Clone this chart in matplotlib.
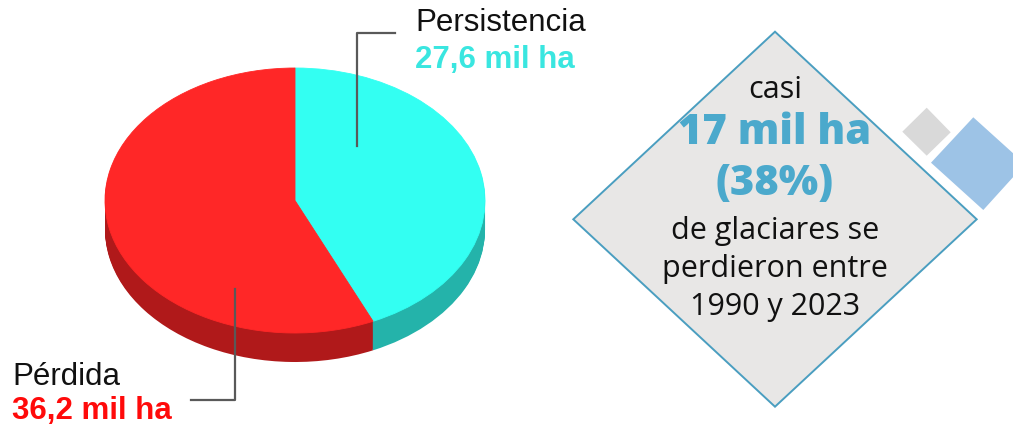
import matplotlib
matplotlib.use("Agg")
import matplotlib.pyplot as plt
from matplotlib.patches import Polygon

# glacier area (thousand ha)
categories = ["Persistencia", "Pérdida"]
values = [27.6, 36.2]
value_labels = ["27,6 mil ha", "36,2 mil ha"]
top_colors = ["#33FFF2", "#FF2727"]
side_colors = ["#24B3AA", "#B0191A"]

headline = ["17 mil ha", "(38%)"]
caption = ["de glaciares se", "perdieron entre", "1990 y 2023"]

W, H = 1013, 428
fig = plt.figure(figsize=(W / 100, H / 100), dpi=100, facecolor="white")

# pie axes: one unit = 190 px across, 132.5 px down -> tilted ellipse
cx, cy = 295, 200.5
rx, ry = 190.0, 132.5
depth = 29 / ry
pie_ax = fig.add_axes([0, 0, 1, 1])
layers = 30
for k in range(layers, 0, -1):
    w, _ = pie_ax.pie(values, colors=side_colors, startangle=90, counterclock=False,
                      center=(0, -depth * k / layers), wedgeprops=dict(linewidth=0))
w_top, _ = pie_ax.pie(values, colors=top_colors, startangle=90, counterclock=False,
                      wedgeprops=dict(linewidth=0.6))
for wedge in w_top:
    wedge.set_edgecolor(wedge.get_facecolor())
pie_ax.set_aspect("auto")
pie_ax.set_xlim(-cx / rx, (W - cx) / rx)
pie_ax.set_ylim(-(H - cy) / ry, cy / ry)
pie_ax.axis("off")

# overlay in pixel coordinates for labels and the callout
ax = fig.add_axes([0, 0, 1, 1], facecolor="none")
ax.set_xlim(0, W)
ax.set_ylim(H, 0)
ax.axis("off")

lab_font = "Liberation Sans"
ax.text(415, 23, categories[0], fontsize=22.5, family=lab_font, va="center", ha="left", color="#111111")
ax.text(415, 60, value_labels[0], fontsize=22.5, family=lab_font, weight="bold", va="center", ha="left", color="#3AE6E0")
ax.text(12, 377, categories[1], fontsize=22.5, family=lab_font, va="center", ha="left", color="#111111")
ax.text(12, 411, value_labels[1], fontsize=22.5, family=lab_font, weight="bold", va="center", ha="left", color="#FF0A0A")

# leader lines
ax.plot([395, 357, 357], [33, 33, 146], color="#595959", lw=1.6)
ax.plot([235, 235, 191], [289, 400, 400], color="#595959", lw=1.6)

# decorative squares
ax.add_patch(Polygon([(926.7, 107.7), (950.7, 132.3), (926.7, 155.7), (902.3, 131.7)],
                     closed=True, facecolor="#D9D9D9", edgecolor="none"))
ax.add_patch(Polygon([(973.3, 117.3), (1025, 164), (983.3, 210), (931, 162.7)],
                     closed=True, facecolor="#9DC3E6", edgecolor="none"))

# diamond callout
ax.add_patch(Polygon([(775, 31.7), (976.7, 219.3), (775, 406.7), (573.3, 219.3)],
                     closed=True, facecolor="#E8E7E6", edgecolor="#4A9EC0", lw=1.4))

txt_font = "Open Sans"
ax.text(775, 90, "casi", fontsize=22, family=txt_font, ha="center", va="center", color="#111111")
ax.text(775, 133, headline[0], fontsize=30, family=txt_font, weight="heavy", ha="center", va="center", color="#4BA9CC")
ax.text(775, 184, headline[1], fontsize=30, family=txt_font, weight="heavy", ha="center", va="center", color="#4BA9CC")
for i, line in enumerate(caption):
    ax.text(775, 231 + 38 * i, line, fontsize=22, family=txt_font, ha="center", va="center", color="#111111")

fig.savefig("out.png", dpi=100, facecolor="white")
